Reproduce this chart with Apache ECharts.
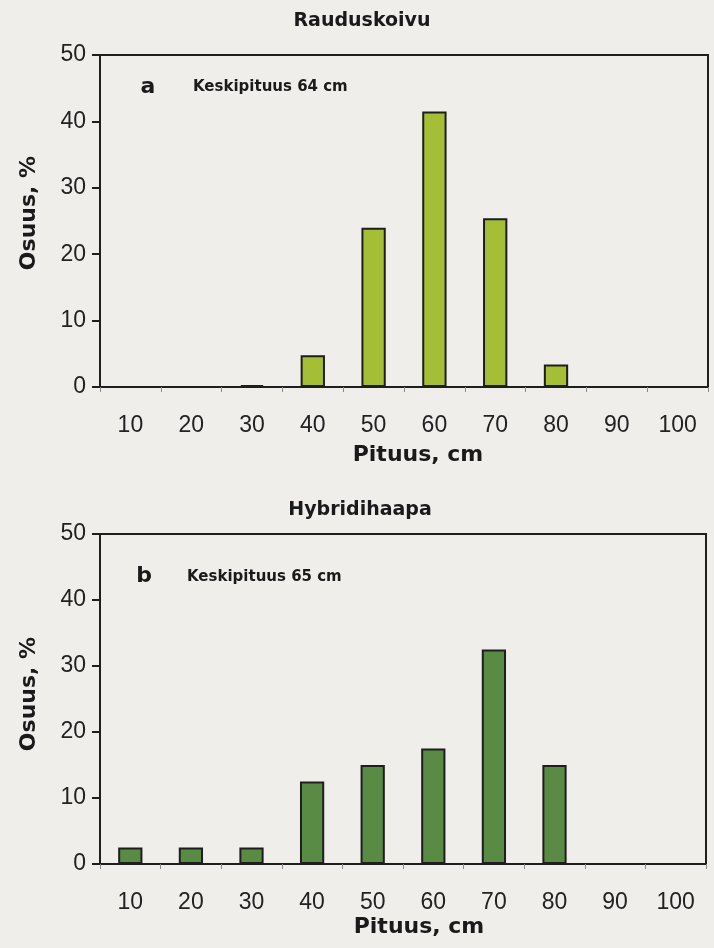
<!DOCTYPE html>
<html>
<head>
<meta charset="utf-8">
<title>Rauduskoivu / Hybridihaapa</title>
<script src="https://cdn.jsdelivr.net/npm/echarts@6/dist/echarts.min.js"></script>
<style>
  html, body { margin: 0; padding: 0; background: #efeeea; }
  #main { width: 714px; height: 948px; }
</style>
</head>
<body>
<div id="main"></div>
<script>
// pituusluokat (cm)
var categories = ['10', '20', '30', '40', '50', '60', '70', '80', '90', '100'];
// osuus, % - rauduskoivu
var rauduskoivu = [0, 0, 0.3, 4.8, 24, 41.5, 25.4, 3.4, 0, 0];
// osuus, % - hybridihaapa
var hybridihaapa = [2.5, 2.5, 2.5, 12.5, 15, 17.5, 32.5, 15, 0, 0];
var yTicks = [0, 10, 20, 30, 40, 50];

var ink = '#1e1e1e';
var digitFont = 'Liberation Sans, Arial, sans-serif';
var boldFont = 'DejaVu Sans, sans-serif';

function makeX(gridIndex) {
    return {
        type: 'category',
        gridIndex: gridIndex,
        data: categories,
        boundaryGap: true,
        axisLine: { lineStyle: { color: ink, width: 2 } },
        axisTick: { show: true, alignWithLabel: false, length: 5, lineStyle: { color: '#8a8a8a', width: 1 } },
        axisLabel: { color: '#222', fontFamily: digitFont, fontSize: 23, margin: 27 },
        splitLine: { show: false }
    };
}

function makeY(gridIndex) {
    return {
        type: 'value',
        gridIndex: gridIndex,
        min: yTicks[0],
        max: yTicks[yTicks.length - 1],
        interval: 10,
        axisLine: { show: true, lineStyle: { color: ink, width: 2 } },
        axisTick: { show: true, length: 8, lineStyle: { color: ink, width: 2 } },
        axisLabel: { color: '#222', fontFamily: digitFont, fontSize: 23, margin: 14 },
        splitLine: { show: false }
    };
}

function txt(text, x, y, size, extra) {
    var el = {
        type: 'text',
        x: x,
        y: y,
        style: {
            text: text,
            fill: '#1a1a1a',
            font: 'bold ' + size + 'px ' + boldFont,
            textAlign: 'center',
            textVerticalAlign: 'middle'
        }
    };
    if (extra) {
        for (var k in extra) { el[k] = extra[k]; }
    }
    return el;
}

var chart = echarts.init(document.getElementById('main'));

var option = {
    backgroundColor: '#efeeea',
    animation: false,
    grid: [
        { left: 100, top: 55, width: 608, height: 332, show: true, borderColor: ink, borderWidth: 2, backgroundColor: 'transparent' },
        { left: 100, top: 534, width: 606, height: 330, show: true, borderColor: ink, borderWidth: 2, backgroundColor: 'transparent' }
    ],
    xAxis: [makeX(0), makeX(1)],
    yAxis: [makeY(0), makeY(1)],
    series: [
        {
            name: 'Rauduskoivu',
            type: 'bar',
            xAxisIndex: 0,
            yAxisIndex: 0,
            barWidth: '40%',
            itemStyle: { color: '#a4bf36', borderColor: ink, borderWidth: 2 },
            data: rauduskoivu
        },
        {
            name: 'Hybridihaapa',
            type: 'bar',
            xAxisIndex: 1,
            yAxisIndex: 1,
            barWidth: '40%',
            itemStyle: { color: '#5a8b44', borderColor: ink, borderWidth: 2 },
            data: hybridihaapa
        }
    ],
    graphic: [
        txt('Rauduskoivu', 362, 21, 19),
        txt('Hybridihaapa', 360, 510, 19),
        txt('a', 148, 87, 22),
        { type: 'text', x: 193, y: 87, style: { text: 'Keskipituus 64 cm', fill: '#1a1a1a', font: 'bold 15px ' + boldFont, textAlign: 'left', textVerticalAlign: 'middle' } },
        txt('b', 144, 576, 22),
        { type: 'text', x: 187, y: 577, style: { text: 'Keskipituus 65 cm', fill: '#1a1a1a', font: 'bold 15px ' + boldFont, textAlign: 'left', textVerticalAlign: 'middle' } },
        txt('Pituus, cm', 418, 455, 22),
        txt('Pituus, cm', 419, 927, 22),
        txt('Osuus, %', 29, 213, 22, { rotation: Math.PI / 2 }),
        txt('Osuus, %', 29, 694, 22, { rotation: Math.PI / 2 })
    ]
};

chart.setOption(option);
</script>
</body>
</html>
